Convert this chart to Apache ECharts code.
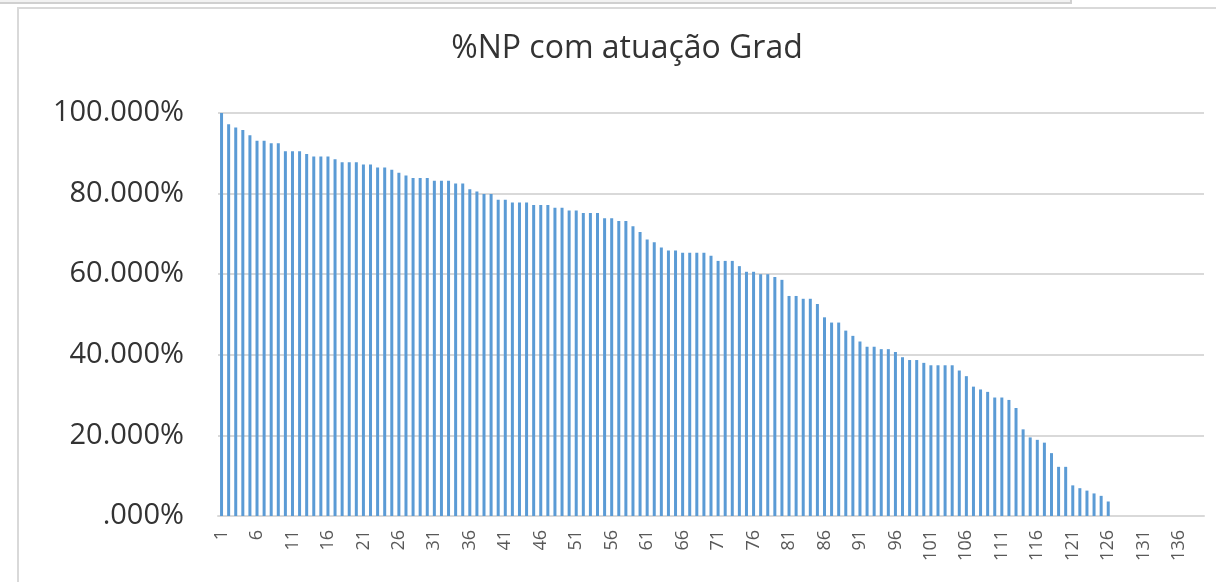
<!DOCTYPE html>
<html>
<head>
<meta charset="utf-8">
<title>%NP com atuação Grad</title>
<script src="https://cdn.jsdelivr.net/npm/echarts@6/dist/echarts.min.js"></script>
<style>
  html, body { margin: 0; padding: 0; background: #fff; }
  #chart { width: 1216px; height: 582px; }
</style>
</head>
<body>
<div id="chart"></div>
<script>
// dados (percentual de NP com atuação)
var titleText = '%NP com atuação Grad';
var categoryCount = 139;
var values = [
  100, 97.2, 96.4, 95.8, 94.5, 93.1, 93.1, 92.5, 92.5, 90.5,
  90.5, 90.5, 89.8, 89.2, 89.2, 89.2, 88.5, 87.8, 87.8, 87.8,
  87.2, 87.2, 86.5, 86.5, 85.9, 85.2, 84.5, 83.9, 83.9, 83.9,
  83.2, 83.2, 83.2, 82.5, 82.5, 81.1, 80.5, 79.9, 79.9, 78.5,
  78.5, 77.8, 77.8, 77.8, 77.2, 77.2, 77.2, 76.5, 76.5, 75.8,
  75.8, 75.2, 75.2, 75.2, 73.9, 73.9, 73.2, 73.2, 71.9, 70.5,
  68.6, 67.9, 66.6, 65.9, 65.9, 65.3, 65.3, 65.3, 65.3, 64.6,
  63.3, 63.3, 63.3, 62.0, 60.6, 60.6, 60.0, 60.0, 59.3, 58.6,
  54.6, 54.6, 53.9, 53.9, 52.6, 49.3, 48.0, 48.0, 46.0, 44.7,
  43.3, 42.0, 42.0, 41.4, 41.4, 40.7, 39.4, 38.7, 38.7, 38.0,
  37.4, 37.4, 37.4, 37.4, 36.1, 34.7, 32.1, 31.4, 30.8, 29.4,
  29.4, 28.8, 26.8, 21.5, 19.5, 18.9, 18.2, 15.6, 12.2, 12.2,
  7.6, 6.9, 6.3, 5.6, 5.0, 3.6
];

var categories = [];
for (var i = 1; i <= categoryCount; i++) categories.push(String(i));

var option = {
  animation: false,
  color: ['#5b9bd5'],
  title: {
    text: titleText,
    left: 622,
    top: 28,
    textAlign: 'center',
    textStyle: { fontFamily: 'Open Sans', fontSize: 32, fontWeight: 'normal', color: '#333' }
  },
  grid: { left: 218, right: 12, top: 113, bottom: 66 },
  xAxis: {
    type: 'category',
    data: categories,
    axisLine: { lineStyle: { color: '#d9d9d9', width: 2 } },
    axisTick: { show: false },
    axisLabel: { interval: 4, rotate: 90, margin: 14, fontSize: 18, fontFamily: 'Open Sans', color: '#595959' }
  },
  yAxis: {
    type: 'value',
    min: 0,
    max: 100,
    interval: 20,
    axisLine: { show: false },
    axisTick: { show: false },
    splitLine: { lineStyle: { color: '#d9d9d9', width: 2 } },
    axisLabel: {
      margin: 34,
      fontFamily: 'Open Sans',
      fontSize: 29,
      color: '#333',
      formatter: function (v) { return v === 0 ? '.000%' : v.toFixed(3) + '%'; }
    }
  },
  series: [{ type: 'bar', data: values, barWidth: 3 }]
};

var myChart = echarts.init(document.getElementById('chart'));
myChart.setOption(option);
// moldura do gráfico
myChart.setOption({
  graphic: [
    { type: 'rect', shape: { x: -5, y: -10, width: 1076, height: 13 },
      style: { fill: '#f2f2f2', stroke: '#d0d0d0', lineWidth: 2 } },
    { type: 'rect', shape: { x: 18, y: 8, width: 1220, height: 600 },
      style: { fill: 'none', stroke: '#d9d9d9', lineWidth: 2 } }
  ]
});
</script>
</body>
</html>
